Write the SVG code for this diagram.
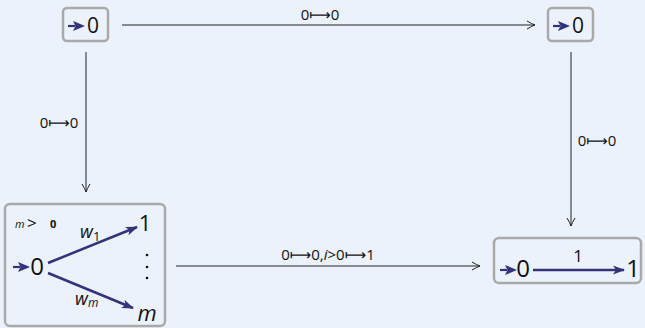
<svg xmlns="http://www.w3.org/2000/svg" width="645" height="328" viewBox="0 0 645 328">
  <defs>
    <marker id="open" markerWidth="12" markerHeight="12" refX="9" refY="5" orient="auto" markerUnits="userSpaceOnUse">
      <path d="M1,1 Q6,4 9,5 Q6,6 1,9" fill="none" stroke="#222" stroke-width="1"/>
    </marker>
    <marker id="solid" markerWidth="14" markerHeight="12" refX="11" refY="6" orient="auto" markerUnits="userSpaceOnUse">
      <path d="M0,1.5 L12,6 L0,10.5 L3,6 Z" fill="#33337a"/>
    </marker>
    <!-- short initial-state arrow: stub plus wide head -->
    <g id="init">
      <line x1="0" y1="0" x2="7" y2="0" stroke="#33337a" stroke-width="2.2"/>
      <path d="M5,-5 L17,0 L5,5 L7.5,0 Z" fill="#33337a"/>
    </g>
  </defs>
  <style>
    .box { fill: none; stroke: #a9a9a9; stroke-width: 2.5; }
    .edge { stroke: #222; stroke-width: 1; fill: none; marker-end: url(#open); }
    .trans { stroke: #33337a; stroke-width: 2.5; fill: none; marker-end: url(#solid); }
    .st { font-family: "Open Sans", "DejaVu Sans", sans-serif; fill: #111; }
    .lbl { font-family: "Open Sans", "DejaVu Sans", sans-serif; font-size: 15px; fill: #111; }
    .it { font-style: italic; }
  </style>
  <rect width="645" height="328" fill="#ecf2fb"/>

  <g id="connectors">
    <line class="edge" x1="122" y1="25" x2="535" y2="25"/>
    <text class="lbl" x="320" y="20" text-anchor="middle">0⟼0</text>
    <line class="edge" x1="86" y1="52" x2="86" y2="192"/>
    <text class="lbl" x="59" y="128" text-anchor="middle">0⟼0</text>
    <line class="edge" x1="571" y1="52" x2="571" y2="226"/>
    <text class="lbl" x="597" y="146" text-anchor="middle">0⟼0</text>
    <line class="edge" x1="176" y1="266" x2="480" y2="266"/>
    <text class="lbl" x="328" y="260" text-anchor="middle">0⟼0,<tspan class="it">i</tspan>&gt;0⟼1</text>
  </g>

  <g id="node-top-left">
    <rect class="box" x="63" y="8" width="45" height="33" rx="4"/>
    <use href="#init" x="68" y="26"/>
    <text class="st" x="93" y="33" font-size="21" text-anchor="middle">0</text>
  </g>

  <g id="node-top-right">
    <rect class="box" x="548" y="8" width="45" height="33" rx="4"/>
    <use href="#init" x="553" y="26"/>
    <text class="st" x="578" y="33" font-size="21" text-anchor="middle">0</text>
  </g>

  <g id="node-bottom-left">
    <rect class="box" x="5" y="204" width="160" height="122" rx="5"/>
    <text class="st it" x="15" y="228" font-size="11">m</text>
    <text class="st" x="27" y="229" font-size="17">&gt;</text>
    <text class="st" x="50" y="228" font-size="11" font-weight="bold">0</text>
    <use href="#init" x="13" y="267"/>
    <text class="st" x="37" y="275" font-size="24" text-anchor="middle">0</text>
    <line class="trans" x1="48" y1="263" x2="137" y2="227"/>
    <line class="trans" x1="48" y1="273" x2="133" y2="308"/>
    <text class="st it" x="80" y="238" font-size="18">w<tspan font-size="13" dy="3" font-style="normal">1</tspan></text>
    <text class="st it" x="75" y="305" font-size="18">w<tspan font-size="12" dy="2">m</tspan></text>
    <text class="st" x="145" y="231" font-size="22" text-anchor="middle">1</text>
    <circle cx="147" cy="255" r="1.3" fill="#111"/>
    <circle cx="147" cy="267" r="1.3" fill="#111"/>
    <circle cx="147" cy="278" r="1.3" fill="#111"/>
    <text class="st it" x="147" y="321" font-size="22" text-anchor="middle">m</text>
  </g>

  <g id="node-bottom-right">
    <rect class="box" x="494" y="238" width="147" height="45" rx="5"/>
    <use href="#init" x="500" y="270"/>
    <text class="st" x="523" y="277" font-size="24" text-anchor="middle">0</text>
    <line class="trans" x1="533" y1="270" x2="624" y2="270"/>
    <text class="st" x="578" y="262" font-size="17" text-anchor="middle">1</text>
    <text class="st" x="633" y="277" font-size="24" text-anchor="middle">1</text>
  </g>
</svg>
